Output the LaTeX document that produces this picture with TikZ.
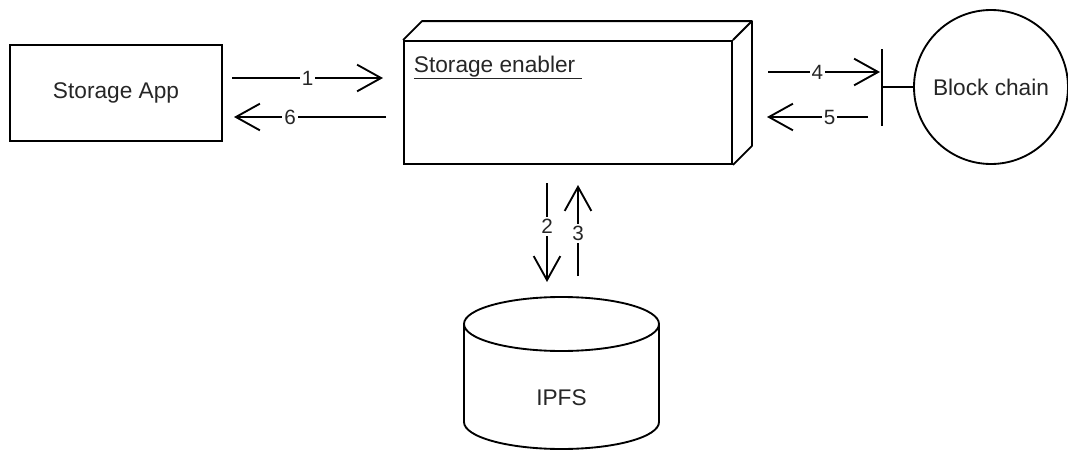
\documentclass[tikz,border=0pt]{standalone}
\usepackage{fontspec}
\setmainfont{Liberation Sans}
\usetikzlibrary{arrows.meta,calc}
\begin{document}
\begin{tikzpicture}[x=0.75pt,y=-0.75pt,line width=1.4pt,
  txt/.style={font=\fontsize{17}{20}\selectfont,text=black!85},
  lbl/.style={font=\fontsize{15.5}{18}\selectfont,text=black!85,fill=white,inner sep=1.5pt},
  flow/.style={-{Straight Barb[length=18pt,width=20pt]}},
  box/.style={draw,inner sep=0pt,txt}]
\useasboundingbox (0,0) rectangle (1068,450);

% client application
\node[box,minimum width=159pt,minimum height=72pt] (app) at (116,93) {Storage App};

% storage enabler drawn as a 3D block
\node[draw,minimum width=246pt,minimum height=92.25pt,inner sep=0pt] (enabler) at (568,102.5) {};
\draw[line join=round] (enabler.north west) -- ++(19,-19) -| ($(enabler.south east)+(19,-19)$) -- (enabler.south east);
\draw (enabler.north east) -- ++(19,-19);
\node[txt,anchor=base west,inner sep=0pt] (title) at (413,72) {\underline{Storage enabler\ }};

% block chain with its provided interface
\node[box,circle,minimum size=115.5pt] (chain) at (991,87) {Block chain};
\coordinate (bar) at (882,87);
\draw (chain.west) -- (bar);
\draw ($(bar)+(0,-38)$) -- ($(bar)+(0,39)$);

% IPFS data store
\coordinate (db) at (561.5,324);
\draw (464,324) -- (464,422) arc[start angle=180,end angle=0,x radius=97.5,y radius=27] -- (659,324);
\draw (db) ellipse[x radius=97.5,y radius=27];
\node[txt] (ipfs) at (561.5,398) {IPFS};

% message flow
\coordinate (a1s) at (232,78);  \coordinate (a1e) at (383,78);
\coordinate (a6s) at (386,117); \coordinate (a6e) at (234,117);
\coordinate (a4s) at (768,72);  \coordinate (a4e) at (880,72);
\coordinate (a5s) at (868,117); \coordinate (a5e) at (767,117);
\coordinate (a2s) at (547,183); \coordinate (a2e) at (547,282);
\coordinate (a3s) at (578,276); \coordinate (a3e) at (578,185);

\draw[flow] (a1s) -- node[lbl,pos=0.5] {1} (a1e);
\draw[flow] (a6s) -- node[lbl,pos=0.63] {6} (a6e);
\draw[flow] (a4s) -- node[lbl,pos=0.44] {4} (a4e);
\draw[flow] (a5s) -- node[lbl,pos=0.38] {5} (a5e);
\draw[flow] (a2s) -- node[lbl,pos=0.44] {2} (a2e);
\draw[flow] (a3s) -- node[lbl,pos=0.47] {3} (a3e);
\end{tikzpicture}
\end{document}
